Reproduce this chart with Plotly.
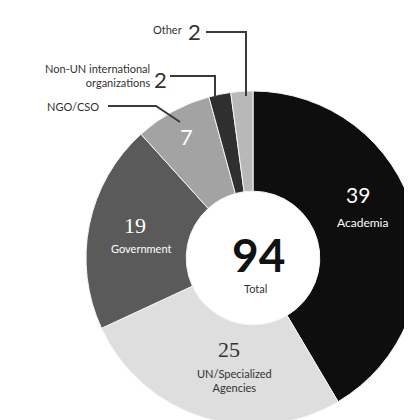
import plotly.graph_objects as go

categories = ["Academia", "UN/Specialized Agencies", "Government", "NGO/CSO",
              "Non-UN international organizations", "Other"]
values = [39, 25, 19, 7, 2, 2]
colors = ["#0e0e0e", "#dedede", "#5a5a5a", "#a3a3a3", "#2f2f2f", "#b8b8b8"]

W, H = 412, 420


def px(x):
    return x / W


def py(y):
    return 1 - y / H


R = 167
fig = go.Figure(go.Pie(
    labels=categories, values=values, sort=False, direction="clockwise",
    rotation=0, hole=0.40,
    marker=dict(colors=colors, line=dict(color="#f4f4f4", width=1)),
    textinfo="none", textposition="none", hoverinfo="label+value", showlegend=False,
    domain=dict(x=[1 - 2 * R / W, 1.0], y=[(170 - R) / H, (170 + R) / H]),
))

total = sum(values)
FONT = "Lato, Liberation Sans, sans-serif"
SERIF = "Liberation Serif, DejaVu Serif, serif"
ann = []


def add(x, y, text, size, color, family=FONT, xanchor="center", align="center"):
    ann.append(dict(x=px(x), y=py(y), xref="paper", yref="paper", text=text,
                    showarrow=False, xanchor=xanchor, yanchor="middle", align=align,
                    font=dict(size=size, color=color, family=family)))


# inside labels
add(350, 186, str(values[0]), 21, "#ffffff")
add(354, 214, categories[0], 12, "#ffffff")
add(221, 341, str(values[1]), 22, "#333333", SERIF)
add(226, 372, "UN/Specialized<br>Agencies", 11, "#333333")
add(127, 217, str(values[2]), 22, "#ffffff", SERIF)
add(133, 241, categories[2], 11, "#ffffff")
add(178, 128, str(values[3]), 22, "#ffffff")
# center total
add(251, 246, f"<b>{total}</b>", 46, "#111111")
add(248, 280, "Total", 11, "#333333")
# outside labels
add(176, 21, "Other", 11, "#333333", xanchor="right")
add(186, 23, str(values[5]), 22, "#333333")
add(144, 67, "Non-UN international<br>organizations", 11, "#333333", xanchor="right", align="right")
add(152, 71, str(values[4]), 22, "#333333")
add(65, 98, categories[3], 11, "#333333")

shapes = []


def path(pts):
    d = "M " + " L ".join(f"{px(x)},{py(y)}" for x, y in pts)
    shapes.append(dict(type="path", path=d, xref="paper", yref="paper",
                       line=dict(color="#3a3a3a", width=2)))


path([(198, 24), (238, 24), (238, 88)])
path([(162, 68), (207, 68), (207, 90)])
path([(100, 98), (148, 98), (172, 114)])

fig.update_layout(width=W, height=H, margin=dict(l=0, r=0, t=0, b=0),
                  paper_bgcolor="white", plot_bgcolor="white",
                  annotations=ann, shapes=shapes)
fig.write_html("out.html")
